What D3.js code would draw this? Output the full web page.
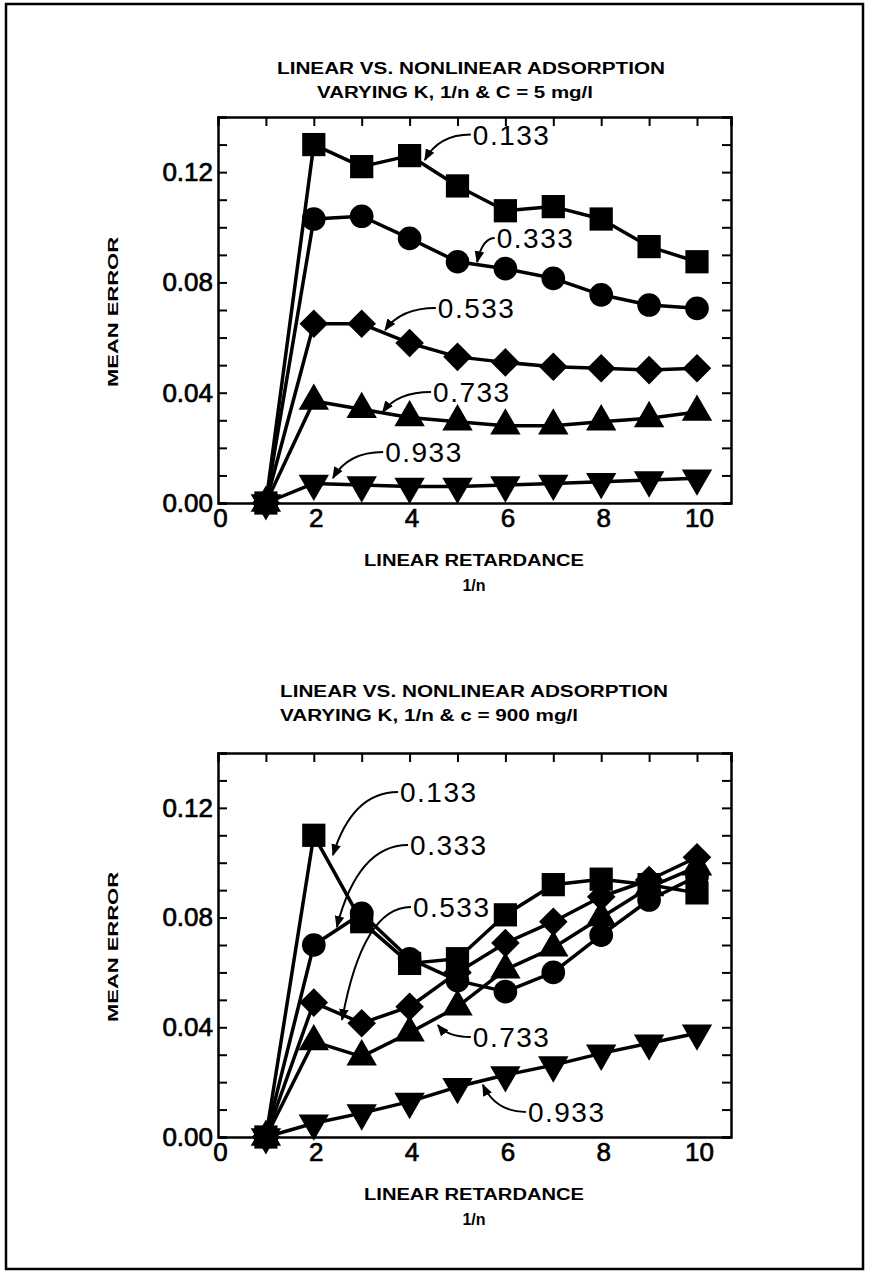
<!DOCTYPE html>
<html>
<head>
<meta charset="utf-8">
<script src="https://cdn.jsdelivr.net/npm/d3@7"></script>
<style>
  body { margin: 0; background: #fff; }
  text { font-family: "Liberation Sans", Arial, sans-serif; fill: #000; }
</style>
</head>
<body>
<svg id="chart"></svg>
<script>
const width = 870;
const height = 1274;

// x values (1/n steps) shared by both panels
const xValues = [1, 2, 3, 4, 5, 6, 7, 8, 9, 10];
const seriesNames = ["0.133", "0.333", "0.533", "0.733", "0.933"];

// Panel 1: C = 5 mg/l
const top133 = [0, 0.130, 0.122, 0.126, 0.115, 0.106, 0.1075, 0.103, 0.093, 0.0875];
const top333 = [0, 0.103, 0.104, 0.096, 0.0875, 0.085, 0.0815, 0.0755, 0.0718, 0.0706];
const top533 = [0, 0.065, 0.065, 0.058, 0.053, 0.051, 0.0494, 0.0489, 0.0482, 0.0489];
const top733 = [0, 0.037, 0.034, 0.031, 0.0295, 0.028, 0.028, 0.0295, 0.0307, 0.033];
const top933 = [0, 0.0071, 0.0065, 0.006, 0.006, 0.0065, 0.0071, 0.0077, 0.0083, 0.009];

// Panel 2: c = 900 mg/l
const bot133 = [0, 0.110, 0.0785, 0.0633, 0.065, 0.081, 0.092, 0.094, 0.092, 0.089];
const bot333 = [0, 0.070, 0.0815, 0.065, 0.057, 0.053, 0.060, 0.0736, 0.0864, 0.095];
const bot533 = [0, 0.049, 0.0415, 0.0475, 0.060, 0.0707, 0.0785, 0.0876, 0.0937, 0.102];
const bot733 = [0, 0.0348, 0.0293, 0.038, 0.0475, 0.061, 0.069, 0.080, 0.091, 0.0985];
const bot933 = [0, 0.005, 0.0087, 0.0129, 0.0183, 0.0226, 0.0262, 0.0305, 0.0342, 0.0378];

// Tick values
const xTickLabels = [0, 2, 4, 6, 8, 10];
const xTicksTop = [1, 2, 3, 4, 5, 6, 7, 8, 9, 10];
const yTicks = d3.range(0, 0.1351, 0.01);
const yTickLabels = [0, 0.04, 0.08, 0.12];

// Annotation labels (text anchor and arrow tip, in data units)
const topNotes = [
  { label: "0.133", tx: 5.32, ty: 0.130, ax: 4.32, ay: 0.1244 },
  { label: "0.333", tx: 5.82, ty: 0.0925, ax: 5.41, ay: 0.0874 },
  { label: "0.533", tx: 4.59, ty: 0.0671, ax: 3.49, ay: 0.0627 },
  { label: "0.733", tx: 4.49, ty: 0.0366, ax: 3.44, ay: 0.033 },
  { label: "0.933", tx: 3.49, ty: 0.0149, ax: 2.40, ay: 0.0091 }
];
const botNotes = [
  { label: "0.133", tx: 3.80, ty: 0.1221, ax: 2.40, ay: 0.1028 },
  { label: "0.333", tx: 4.01, ty: 0.1028, ax: 2.48, ay: 0.0766 },
  { label: "0.533", tx: 4.07, ty: 0.0802, ax: 2.59, ay: 0.0427 },
  { label: "0.733", tx: 5.32, ty: 0.0328, ax: 4.59, ay: 0.0408 },
  { label: "0.933", tx: 6.47, ty: 0.0055, ax: 5.53, ay: 0.019 }
];

const svg = d3.select("#chart")
  .attr("width", width)
  .attr("height", height);

svg.append("rect")
  .attr("width", width).attr("height", height)
  .attr("fill", "#fff");

// outer frame
svg.append("rect")
  .attr("x", 6).attr("y", 4)
  .attr("width", 857).attr("height", 1265)
  .attr("fill", "none")
  .attr("stroke", "#000")
  .attr("stroke-width", 2.5);

// arrowhead
svg.append("defs").append("marker")
  .attr("id", "arrow")
  .attr("viewBox", "0 0 10 10")
  .attr("refX", 9).attr("refY", 5)
  .attr("markerWidth", 12).attr("markerHeight", 12)
  .attr("markerUnits", "userSpaceOnUse")
  .attr("orient", "auto")
  .append("path")
  .attr("d", "M0,1 L10,5 L0,9 Z")
  .attr("fill", "#000");

const symbols = [
  { type: d3.symbolSquare, size: 540, rotate: 0 },
  { type: d3.symbolCircle, size: 440, rotate: 0 },
  { type: d3.symbolDiamond2, size: 520, rotate: 0 },
  { type: d3.symbolTriangle, size: 400, rotate: 0 },
  { type: d3.symbolTriangle, size: 400, rotate: 180 }
];

function drawPanel(opts) {
  const margin = { left: 218, top: opts.top };
  const innerWidth = 513;
  const innerHeight = opts.h;

  const x = d3.scaleLinear().domain([0, 10.71]).range([0, innerWidth]);
  const y = d3.scaleLinear().domain([0, 0.14]).range([innerHeight, 0]);

  const g = svg.append("g")
    .attr("transform", `translate(${margin.left},${margin.top})`);

  // titles
  svg.append("text")
    .attr("x", opts.t1x).attr("y", opts.t1y)
    .attr("textLength", 388).attr("lengthAdjust", "spacingAndGlyphs")
    .style("font-size", "16px").style("font-weight", "bold")
    .text("LINEAR VS. NONLINEAR ADSORPTION");
  svg.append("text")
    .attr("x", opts.t2x).attr("y", opts.t1y + 24)
    .attr("textLength", opts.t2w).attr("lengthAdjust", "spacingAndGlyphs")
    .style("font-size", "16px").style("font-weight", "bold")
    .text(opts.subtitle);

  // left axis
  const yAxisG = g.append("g")
    .call(d3.axisLeft(y).tickValues(yTicks).tickSize(-9).tickPadding(7)
      .tickFormat(d => yTickLabels.some(v => Math.abs(v - d) < 1e-9) ? d3.format(".2f")(d) : ""));
  // right axis
  const yAxisR = g.append("g")
    .attr("transform", `translate(${innerWidth},0)`)
    .call(d3.axisRight(y).tickValues(yTicks).tickSize(-9).tickFormat(""));
  // top axis
  const xAxisT = g.append("g")
    .call(d3.axisTop(x).tickValues(xTicksTop).tickSize(-9).tickFormat(""));
  // bottom axis
  const xAxisB = g.append("g")
    .attr("transform", `translate(0,${innerHeight})`)
    .call(d3.axisBottom(x).tickValues(xTickLabels).tickSize(0).tickPadding(6));

  [yAxisG, yAxisR, xAxisT, xAxisB].forEach(a => {
    a.select(".domain").attr("stroke-width", 2.5);
    a.selectAll(".tick line").attr("stroke-width", 2);
    a.selectAll("text")
      .style("font-size", "26px")
      .style("font-family", "'Liberation Sans', Arial, sans-serif")
      .attr("fill", "#000")
      .attr("stroke", "#000").attr("stroke-width", 0.7);
  });
  yAxisG.selectAll("text").attr("dx", "2");
  xAxisB.selectAll("text").attr("dx", "2");

  // axis titles
  g.append("text")
    .attr("transform", `translate(-100,${innerHeight / 2 + 2}) rotate(-90)`)
    .attr("text-anchor", "middle")
    .attr("textLength", 150).attr("lengthAdjust", "spacingAndGlyphs")
    .style("font-size", "15px").style("font-weight", "bold")
    .text("MEAN ERROR");
  g.append("text")
    .attr("x", 256).attr("y", innerHeight + 63)
    .attr("text-anchor", "middle")
    .attr("textLength", 220).attr("lengthAdjust", "spacingAndGlyphs")
    .style("font-size", "16px").style("font-weight", "bold")
    .text("LINEAR RETARDANCE");
  g.append("text")
    .attr("x", 256).attr("y", innerHeight + 88)
    .attr("text-anchor", "middle")
    .style("font-size", "16px").style("font-weight", "bold")
    .text("1/n");

  const line = d3.line()
    .x((d, i) => x(xValues[i]))
    .y(d => y(d));

  opts.order.forEach(k => {
    const values = opts.series[k];
    const sym = symbols[k];
    g.append("path")
      .datum(values)
      .attr("fill", "none")
      .attr("stroke", "#000")
      .attr("stroke-width", 3.5)
      .attr("stroke-linejoin", "round")
      .attr("d", line);
    g.selectAll(null)
      .data(values)
      .enter()
      .append("path")
      .attr("d", d3.symbol().type(sym.type).size(sym.size))
      .attr("transform", (d, i) => `translate(${x(xValues[i])},${y(d)}) rotate(${sym.rotate})`)
      .attr("fill", "#000");
  });

  // annotations
  opts.notes.forEach(n => {
    const tx = x(n.tx), ty = y(n.ty);
    const sx = tx - 2, sy = ty - 10;
    const ex = x(n.ax), ey = y(n.ay);
    const cx = ex + 0.3 * (sx - ex), cy = sy;
    g.append("path")
      .attr("d", `M${sx},${sy} Q${cx},${cy} ${ex},${ey}`)
      .attr("fill", "none")
      .attr("stroke", "#000")
      .attr("stroke-width", 2)
      .attr("marker-end", "url(#arrow)");
    g.append("text")
      .attr("x", tx).attr("y", ty)
      .style("font-size", "28px")
      .style("letter-spacing", "1.5px")
      .text(n.label);
  });
}

drawPanel({
  top: 117, h: 386,
  t1x: 277, t1y: 74, t2x: 317, t2w: 276,
  subtitle: "VARYING K, 1/n & C = 5 mg/l",
  series: [top133, top333, top533, top733, top933],
  order: [4, 3, 2, 1, 0],
  notes: topNotes
});

drawPanel({
  top: 753, h: 384,
  t1x: 280, t1y: 697, t2x: 280, t2w: 298,
  subtitle: "VARYING K, 1/n & c = 900 mg/l",
  series: [bot133, bot333, bot533, bot733, bot933],
  order: [4, 1, 3, 0, 2],
  notes: botNotes
});
</script>
</body>
</html>
